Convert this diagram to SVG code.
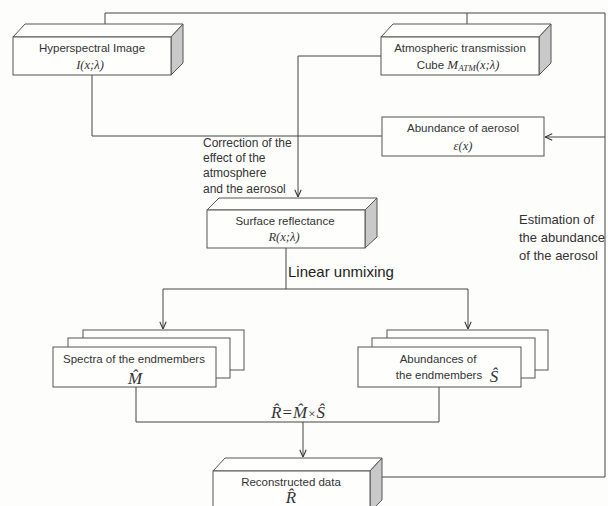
<svg xmlns="http://www.w3.org/2000/svg" width="608" height="506" viewBox="0 0 608 506">
<defs>
<marker id="arr" viewBox="0 0 10 10" refX="10" refY="5" markerWidth="8" markerHeight="8" markerUnits="userSpaceOnUse" orient="auto">
<path d="M1,1 L10,5 L1,9" fill="none" stroke="#333" stroke-width="1.3"/>
</marker>
<style>
.bg{fill:#fdfdfb}
.front{fill:#fefefd;stroke:#555;stroke-width:1}
.top{fill:#fefefd;stroke:#555;stroke-width:1}
.side{fill:#c9c9c9;stroke:#555;stroke-width:1}
.conn{fill:none;stroke:#444;stroke-width:1}
.lbl{font-family:"Liberation Sans",Arial,sans-serif;font-size:11.5px;fill:#333;text-anchor:middle}
.note{font-family:"Liberation Sans",Arial,sans-serif;font-size:12px;fill:#333}
.est{font-family:"Liberation Sans",Arial,sans-serif;font-size:13px;fill:#333}
.math{font-family:"Liberation Serif","Times New Roman",serif;font-style:italic;font-size:12.5px;fill:#333;text-anchor:middle}
.mathbig{font-family:"Liberation Serif","Times New Roman",serif;font-style:italic;font-size:17px;fill:#333;text-anchor:middle}
</style>
</defs>
<rect class="bg" x="0" y="0" width="608" height="506"/>

<g id="connectors">
<path class="conn" d="M105,24 V13 H467 V25"/>
<path class="conn" d="M381,477 H605 V13 H467" stroke-width="1.3"/>
<path class="conn" d="M605,137 H545" marker-end="url(#arr)"/>
<path class="conn" d="M381,56 H298 V197" marker-end="url(#arr)"/>
<path class="conn" d="M92,75 V136 H382"/>
<path class="conn" d="M286,248 V289 H163 V329" marker-end="url(#arr)"/>
<path class="conn" d="M286,289 H468 V329" marker-end="url(#arr)"/>
<path class="conn" d="M136,387 V422 H439 V387"/>
<path class="conn" d="M303,422 V457" stroke-width="1.6" marker-end="url(#arr)"/>
</g>

<g id="hyperspectral">
<polygon class="top" points="13,37 25,24 183,24 171,37"/>
<polygon class="side" points="171,37 183,24 183,63 171,75"/>
<rect class="front" x="13" y="37" width="158" height="38"/>
<text class="lbl" x="92" y="52">Hyperspectral Image</text>
<text class="math" x="90" y="69">I(x;λ)</text>
</g>

<g id="atmospheric">
<polygon class="top" points="381,37 393,24 551,24 539,37"/>
<polygon class="side" points="539,37 551,24 551,63 539,75"/>
<rect class="front" x="381" y="37" width="158" height="38"/>
<text class="lbl" x="460" y="52">Atmospheric transmission</text>
<text x="458" y="69" style="font-family:'Liberation Sans',Arial,sans-serif;font-size:11.5px;fill:#333;text-anchor:middle">Cube <tspan style="font-family:'Liberation Serif','Times New Roman',serif;font-style:italic;font-size:13px">M</tspan><tspan style="font-family:'Liberation Serif','Times New Roman',serif;font-style:italic;font-size:9px" dy="2">ATM</tspan><tspan style="font-family:'Liberation Serif','Times New Roman',serif;font-style:italic;font-size:12.5px" dy="-2">(x;λ)</tspan></text>
</g>

<g id="abundance-aerosol">
<rect class="front" x="382" y="117" width="162" height="39"/>
<text class="lbl" x="463" y="132">Abundance of aerosol</text>
<text class="math" x="463" y="150">ε(x)</text>
</g>

<g id="correction-label">
<text class="note" x="203" y="147">Correction of the</text>
<text class="note" x="203" y="162">effect of  the</text>
<text class="note" x="203" y="177">atmosphere</text>
<text class="note" x="203" y="193">and the aerosol</text>
</g>

<g id="surface">
<polygon class="top" points="207,210 219,198 377,198 365,210"/>
<polygon class="side" points="365,210 377,198 377,237 365,248"/>
<rect class="front" x="207" y="210" width="158" height="38"/>
<text class="lbl" x="285" y="225">Surface reflectance</text>
<text class="math" x="284" y="241">R(x;λ)</text>
</g>

<text x="288" y="277" style="font-family:'Liberation Sans',Arial,sans-serif;font-size:15px;fill:#222">Linear unmixing</text>

<g id="estimation-label">
<text class="est" x="519" y="224">Estimation of</text>
<text class="est" x="519" y="242">the abundance</text>
<text class="est" x="519" y="260">of the aerosol</text>
</g>

<g id="spectra">
<rect class="front" x="83" y="330" width="161" height="40"/>
<rect class="front" x="68" y="338" width="162" height="40"/>
<rect class="front" x="53" y="347" width="163" height="40"/>
<text class="lbl" x="134" y="363">Spectra of the endmembers</text>
<text class="mathbig" x="135" y="384">M̂</text>
</g>

<g id="abundances">
<rect class="front" x="387" y="330" width="161" height="40"/>
<rect class="front" x="372" y="338" width="163" height="40"/>
<rect class="front" x="358" y="347" width="163" height="40"/>
<text class="lbl" x="438" y="363">Abundances of</text>
<text class="lbl" x="439" y="379">the endmembers</text>
<text class="mathbig" x="494" y="382">Ŝ</text>
</g>

<text class="mathbig" x="298" y="418">R̂<tspan style="font-style:normal" dx="1">=</tspan><tspan dx="1">M̂</tspan><tspan style="font-style:normal;font-size:13px" dx="1">×</tspan><tspan dx="1">Ŝ</tspan></text>

<g id="reconstructed">
<polygon class="top" points="213,471 225,458 382,458 370,471"/>
<polygon class="side" points="370,471 382,458 382,500 370,512"/>
<rect class="front" x="213" y="471" width="157" height="40"/>
<text class="lbl" x="291" y="486">Reconstructed data</text>
<text class="mathbig" x="291" y="503">R̂</text>
</g>
</svg>
